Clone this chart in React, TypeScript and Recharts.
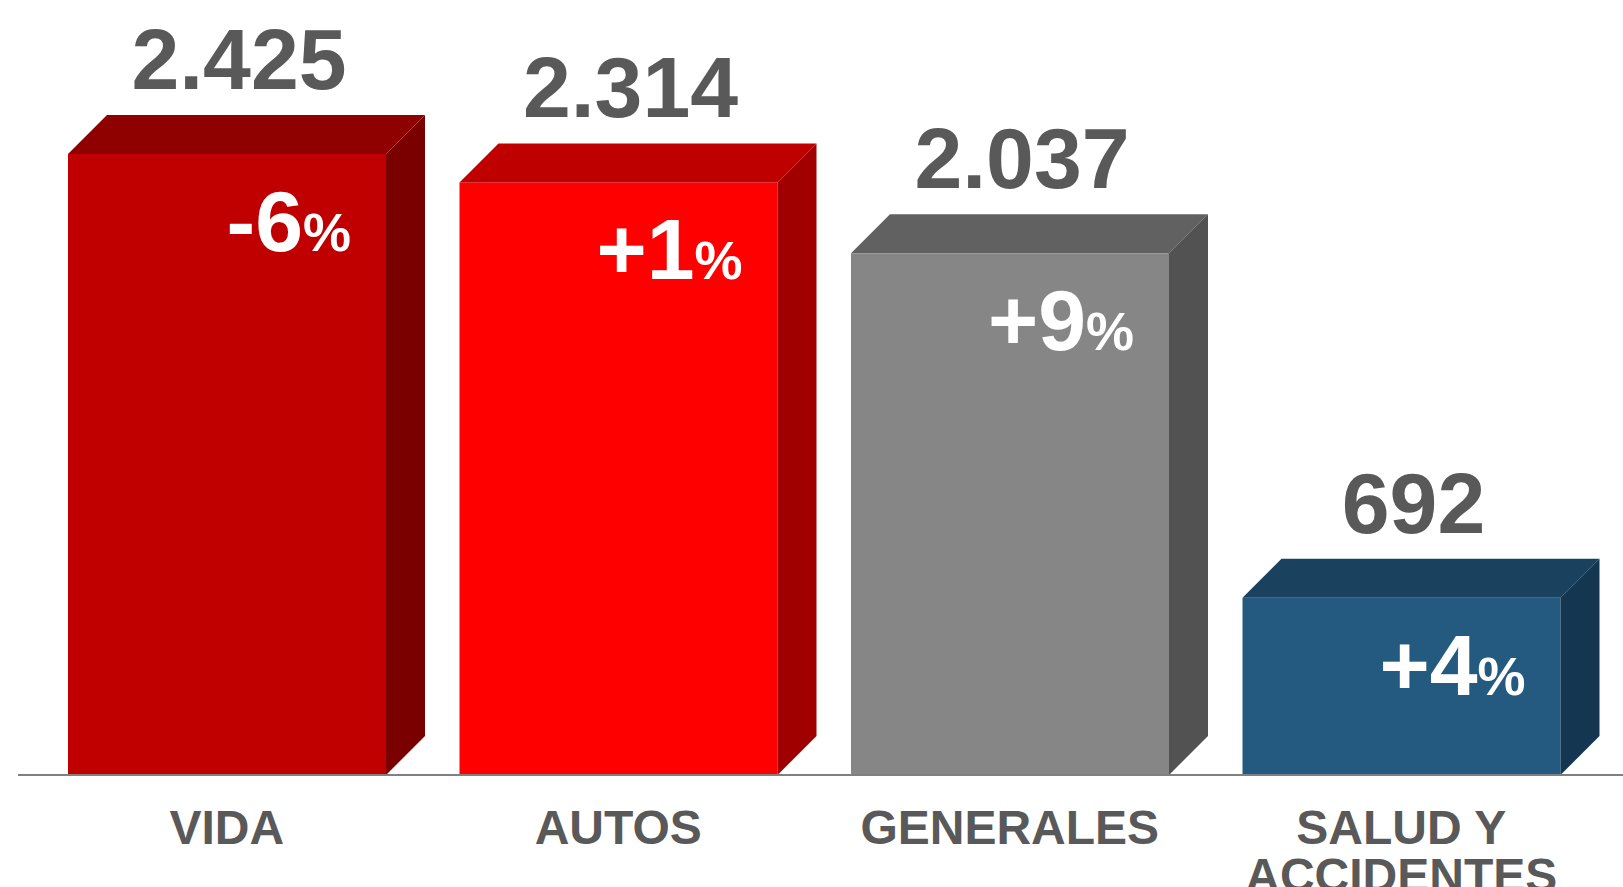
import { BarChart, Bar, XAxis, YAxis, LabelList } from 'recharts';

const categories = ['VIDA', 'AUTOS', 'GENERALES', 'SALUD Y\nACCIDENTES'];
const values = [2425, 2314, 2037, 692];
const changes = [-6, 1, 9, 4];

const FRONT = ['#C00000', '#FF0000', '#868686', '#245A80'];
const TOP = ['#8F0000', '#BF0000', '#616161', '#1A425E'];
const SIDE = ['#7A0000', '#A00000', '#525252', '#143650'];

const TEXT = '#595959';
const FONT = '"Liberation Sans", Arial, sans-serif';
const DEPTH = 39;

const data = categories.map((name, i) => ({ name, value: values[i], change: changes[i] }));

const fmtThousands = (v: number) => String(v).replace(/\B(?=(\d{3})+(?!\d))/g, '.');
const fmtChange = (v: number) => (v > 0 ? `+${v}` : `${v}`);

function Bar3D(props: any) {
  const { x, y, width, height, payload } = props;
  const i = categories.indexOf(payload.name);
  const d = DEPTH;
  const b = y + height;
  return (
    <g>
      <rect x={x} y={y} width={width} height={height} fill={FRONT[i]} />
      <polygon
        points={`${x},${y} ${x + d},${y - d} ${x + width + d},${y - d} ${x + width},${y}`}
        fill={TOP[i]}
      />
      <polygon
        points={`${x + width},${y} ${x + width + d},${y - d} ${x + width + d},${b - d} ${x + width},${b}`}
        fill={SIDE[i]}
      />
    </g>
  );
}

function ValueLabel(props: any) {
  const { x, y, width, value } = props;
  return (
    <text
      x={x + width / 2 + 12}
      y={y - DEPTH - 26}
      textAnchor="middle"
      fill={TEXT}
      fontFamily={FONT}
      fontWeight="bold"
      fontSize={86}
    >
      {fmtThousands(value)}
    </text>
  );
}

function ChangeLabel(props: any) {
  const { x, y, width, value } = props;
  return (
    <text
      x={x + width - 35}
      y={y + 97}
      textAnchor="end"
      fill="#FFFFFF"
      fontFamily={FONT}
      fontWeight="bold"
    >
      <tspan fontSize={86}>{fmtChange(value)}</tspan>
      <tspan fontSize={54}>%</tspan>
    </text>
  );
}

function CategoryTick(props: any) {
  const { x, y, payload } = props;
  const lines = String(payload.value).split('\n');
  return (
    <text
      x={x}
      y={y}
      textAnchor="middle"
      fill={TEXT}
      fontFamily={FONT}
      fontWeight="bold"
      fontSize={48}
    >
      {lines.map((l, k) => (
        <tspan key={k} x={x} dy={k === 0 ? 69 : 48}>
          {l}
        </tspan>
      ))}
    </text>
  );
}

export default function App() {
  return (
    <div style={{ position: 'absolute', left: 0, top: 0, width: 1623, height: 887, background: '#fff' }}>
      <BarChart
        width={1623}
        height={887}
        data={data}
        margin={{ top: 154, right: 0, bottom: 0, left: 18 }}
        barCategoryGap={0}
      >
        <YAxis hide domain={[0, 2425]} />
        <XAxis
          dataKey="name"
          height={112}
          interval={0}
          padding={{ left: 13, right: 26 }}
          tickLine={false}
          tickSize={0}
          tickMargin={0}
          axisLine={{ stroke: '#808080', strokeWidth: 2 }}
          tick={<CategoryTick />}
        />
        <Bar dataKey="value" barSize={318} shape={<Bar3D />} isAnimationActive={false}>
          <LabelList dataKey="value" content={<ValueLabel />} />
          <LabelList dataKey="change" content={<ChangeLabel />} />
        </Bar>
      </BarChart>
    </div>
  );
}
